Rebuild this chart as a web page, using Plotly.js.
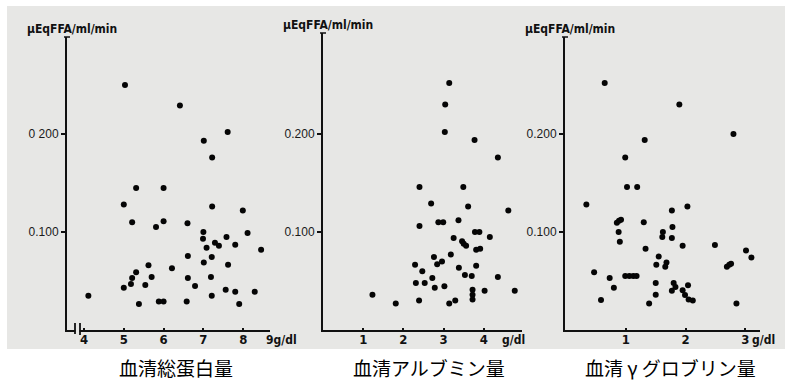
<!DOCTYPE html>
<html>
<head>
<meta charset="utf-8">
<script src="https://cdn.plot.ly/plotly-3.0.1.min.js"></script>
<style>
  html, body { margin: 0; padding: 0; background: #ffffff; }
  #chart { width: 785px; height: 382px; }
</style>
</head>
<body>
<div id="chart"></div>
<script>
// Free fatty acid release rate (μEq FFA/ml/min) against three serum protein fractions

// Serum total protein (g/dl)
const totalProteinX = [5.03, 6.41, 7.61, 7.01, 7.22, 5.31, 6.00, 5.00, 7.22, 7.99,
  5.21, 6.00, 5.81, 6.60, 7.00, 8.11, 6.99, 7.58, 7.29, 7.39,
  7.08, 7.80, 8.45, 6.61, 7.21, 7.01, 7.62, 5.62, 6.21, 5.31,
  5.70, 5.21, 6.61, 7.19, 5.00, 5.18, 5.54, 6.79, 4.11, 7.56,
  7.80, 8.29, 7.21, 5.38, 5.88, 6.00, 6.58, 7.90];
const totalProteinFFA = [0.250, 0.229, 0.202, 0.193, 0.176, 0.145, 0.145, 0.128, 0.126, 0.122,
  0.110, 0.111, 0.105, 0.109, 0.100, 0.099, 0.093, 0.095, 0.089, 0.086,
  0.084, 0.087, 0.082, 0.0755, 0.0745, 0.069, 0.0667, 0.066, 0.063, 0.059,
  0.054, 0.053, 0.053, 0.054, 0.043, 0.047, 0.046, 0.045, 0.035, 0.041,
  0.039, 0.039, 0.035, 0.0265, 0.029, 0.029, 0.029, 0.0265];

// Serum albumin (g/dl)
const albuminX = [1.23, 1.81, 3.14, 3.04, 3.03, 3.77, 4.35, 2.40, 3.49, 2.69,
  3.61, 4.61, 2.40, 2.87, 2.99, 3.37, 3.78, 3.89, 3.25, 4.15,
  3.46, 3.50, 3.56, 3.81, 3.91, 3.18, 2.76, 2.96, 2.84, 2.29,
  3.81, 3.38, 2.47, 3.53, 3.70, 4.35, 2.72, 2.31, 2.53, 2.78,
  3.02, 3.72, 3.72, 3.72, 4.02, 4.77, 2.39, 3.14, 3.29];
const albuminFFA = [0.036, 0.027, 0.252, 0.230, 0.202, 0.194, 0.176, 0.146, 0.146, 0.129,
  0.126, 0.122, 0.106, 0.110, 0.110, 0.112, 0.100, 0.100, 0.094, 0.095,
  0.0905, 0.088, 0.086, 0.082, 0.083, 0.077, 0.0745, 0.070, 0.067, 0.0667,
  0.0656, 0.0636, 0.060, 0.056, 0.055, 0.054, 0.053, 0.048, 0.048, 0.043,
  0.0446, 0.041, 0.036, 0.031, 0.040, 0.040, 0.030, 0.027, 0.030];

// Serum gamma globulin (g/dl)
const gammaX = [0.647, 1.895, 2.80, 1.316, 0.99, 1.02, 1.19, 0.34, 2.03, 1.77,
  0.85, 0.886, 0.92, 1.30, 1.78, 0.88, 1.62, 1.61, 1.77, 0.90,
  1.95, 2.49, 1.33, 3.01, 3.10, 1.55, 1.68, 1.51, 1.66, 2.69,
  2.73, 2.76, 0.47, 0.99, 1.06, 1.125, 1.18, 0.73, 0.80, 1.50,
  1.80, 1.83, 2.04, 1.77, 1.50, 1.95, 1.99, 2.05, 2.12, 0.585,
  1.39, 2.85];
const gammaFFA = [0.252, 0.230, 0.200, 0.194, 0.176, 0.146, 0.146, 0.128, 0.126, 0.122,
  0.1095, 0.1115, 0.1126, 0.110, 0.105, 0.100, 0.100, 0.095, 0.094, 0.090,
  0.086, 0.0867, 0.083, 0.081, 0.074, 0.075, 0.069, 0.0667, 0.0646, 0.0646,
  0.0667, 0.0677, 0.059, 0.055, 0.055, 0.055, 0.055, 0.053, 0.043, 0.048,
  0.048, 0.044, 0.0456, 0.040, 0.036, 0.0405, 0.0357, 0.031, 0.030, 0.0306,
  0.027, 0.027];

// Tick values and labels
const yTickVals = [0.1, 0.2];
const yTickText1 = ['0.100', '0 200'];
const yTickText = ['0.100', '0.200'];
const xTicks1 = [4, 5, 6, 7, 8];
const xTicks2 = [1, 2, 3, 4];
const xTicks3 = [1, 2, 3];

const yUnit = 'μEqFFA/ml/min';
const captions = ['血清総蛋白量', '血清アルブミン量', '血清 γ グロブリン量'];

// ---- page geometry (pixels) ----
const W = 785, H = 382;
const px = v => v / W;          // pixel x -> paper x
const py = v => 1 - v / H;      // pixel y -> paper y
const BASE = 330;               // pixel row of the x axes (FFA = 0)
const Y_SCALE = 980;            // pixels per 1 μEq/ml/min

// left edge, right edge and top of each frame
const frames = [
  { left: 67,  right: 270, top: 37, x0: 3.573, xPerPx: 1 / 39.8 },
  { left: 323, right: 522, top: 33, x0: 0,     xPerPx: 1 / 40.2 },
  { left: 565, right: 760, top: 37, x0: -0.017, xPerPx: 1 / 59.8 }
];

const INK = '#111111';
const PAPER_GREY = '#e7e7e5';
const numFont = { family: 'Liberation Sans, Arial, sans-serif', size: 12, color: '#1a1a1a' };
const xNumFont = { family: 'Liberation Sans Narrow, DejaVu Sans Condensed, Arial Narrow, sans-serif', size: 13, color: INK, weight: 'bold' };
const unitFont = { family: 'Liberation Sans Narrow, DejaVu Sans Condensed, Arial Narrow, sans-serif', size: 12, color: INK, weight: 'bold' };

function xAxis(i, ticks, anchor) {
  const f = frames[i];
  return {
    domain: [px(f.left), px(f.right)],
    range: [f.x0, f.x0 + (f.right - f.left) * f.xPerPx],
    anchor: anchor,
    showline: true, linecolor: INK, linewidth: 2,
    showgrid: false, zeroline: false,
    ticks: 'inside', ticklen: 2, tickwidth: 2, tickcolor: INK,
    tickvals: ticks, ticktext: ticks.map(String),
    tickfont: xNumFont, ticklabelstandoff: -4,
    fixedrange: true
  };
}
function yAxis(i, text, anchor) {
  const f = frames[i];
  return {
    domain: [py(BASE), py(f.top)],
    range: [0, (BASE - f.top) / Y_SCALE],
    anchor: anchor,
    showline: true, linecolor: INK, linewidth: 2,
    showgrid: false, zeroline: false,
    ticks: 'outside', ticklen: 4, tickwidth: 1.5, tickcolor: INK,
    tickvals: yTickVals, ticktext: text,
    tickfont: numFont, ticklabelstandoff: 0,
    fixedrange: true
  };
}

const marker = { color: '#050505', size: 6, line: { width: 0 } };
const traces = [
  { x: totalProteinX, y: totalProteinFFA, xaxis: 'x',  yaxis: 'y',  type: 'scatter', mode: 'markers', marker, cliponaxis: false },
  { x: albuminX,      y: albuminFFA,      xaxis: 'x2', yaxis: 'y2', type: 'scatter', mode: 'markers', marker, cliponaxis: false },
  { x: gammaX,        y: gammaFFA,        xaxis: 'x3', yaxis: 'y3', type: 'scatter', mode: 'markers', marker, cliponaxis: false }
];

// printed page area behind the plots
const shapes = [
  { type: 'rect', xref: 'paper', yref: 'paper', layer: 'below',
    x0: px(7), x1: px(W), y0: py(349), y1: py(6),
    fillcolor: PAPER_GREY, line: { width: 0 } }
];
// small caps on top of each vertical axis
frames.forEach(f => {
  shapes.push({ type: 'line', xref: 'paper', yref: 'paper',
    x0: px(f.left - 3), x1: px(f.left + 3), y0: py(f.top), y1: py(f.top),
    line: { color: INK, width: 1.5 } });
});
// broken-axis mark on the total-protein axis
shapes.push(
  { type: 'rect', xref: 'paper', yref: 'paper', layer: 'above',
    x0: px(75.5), x1: px(79.5), y0: py(333), y1: py(327),
    fillcolor: PAPER_GREY, line: { width: 0 } },
  { type: 'line', xref: 'paper', yref: 'paper',
    x0: px(75), x1: px(75), y0: py(334), y1: py(323), line: { color: INK, width: 1.8 } },
  { type: 'line', xref: 'paper', yref: 'paper',
    x0: px(80), x1: px(80), y0: py(335), y1: py(323), line: { color: INK, width: 1.8 } }
);

const annotations = [];
frames.forEach(f => {
  annotations.push({ xref: 'paper', yref: 'paper', x: px(f.left + 5), y: py(f.top - 8),
    text: yUnit, showarrow: false, xanchor: 'center', yanchor: 'middle', font: unitFont });
});
// unit labels at the end of each horizontal axis
annotations.push(
  { xref: 'paper', yref: 'paper', x: px(264), y: py(340), text: '9g/dl', showarrow: false,
    xanchor: 'left', yanchor: 'middle', font: unitFont },
  { xref: 'paper', yref: 'paper', x: px(500), y: py(340), text: 'g/dl', showarrow: false,
    xanchor: 'left', yanchor: 'middle', font: unitFont },
  { xref: 'paper', yref: 'paper', x: px(750), y: py(340), text: 'g/dl', showarrow: false,
    xanchor: 'left', yanchor: 'middle', font: unitFont }
);
// captions under each panel
const capX = [176, 429, 670];
captions.forEach((c, i) => {
  annotations.push({ xref: 'paper', yref: 'paper', x: px(capX[i]), y: py(367), text: c,
    showarrow: false, xanchor: 'center', yanchor: 'middle',
    font: { family: 'Noto Sans CJK JP, sans-serif', size: 19, color: '#000000' } });
});

const layout = {
  width: W, height: H, autosize: false,
  margin: { l: 0, r: 0, t: 0, b: 0, pad: 0 },
  paper_bgcolor: '#ffffff', plot_bgcolor: 'rgba(0,0,0,0)',
  showlegend: false,
  xaxis: xAxis(0, xTicks1, 'y'),
  yaxis: yAxis(0, yTickText1, 'x'),
  xaxis2: xAxis(1, xTicks2, 'y2'),
  yaxis2: yAxis(1, yTickText, 'x2'),
  xaxis3: xAxis(2, xTicks3, 'y3'),
  yaxis3: yAxis(2, yTickText, 'x3'),
  shapes, annotations
};

Plotly.newPlot('chart', traces, layout, { staticPlot: true, displayModeBar: false });
</script>
</body>
</html>
